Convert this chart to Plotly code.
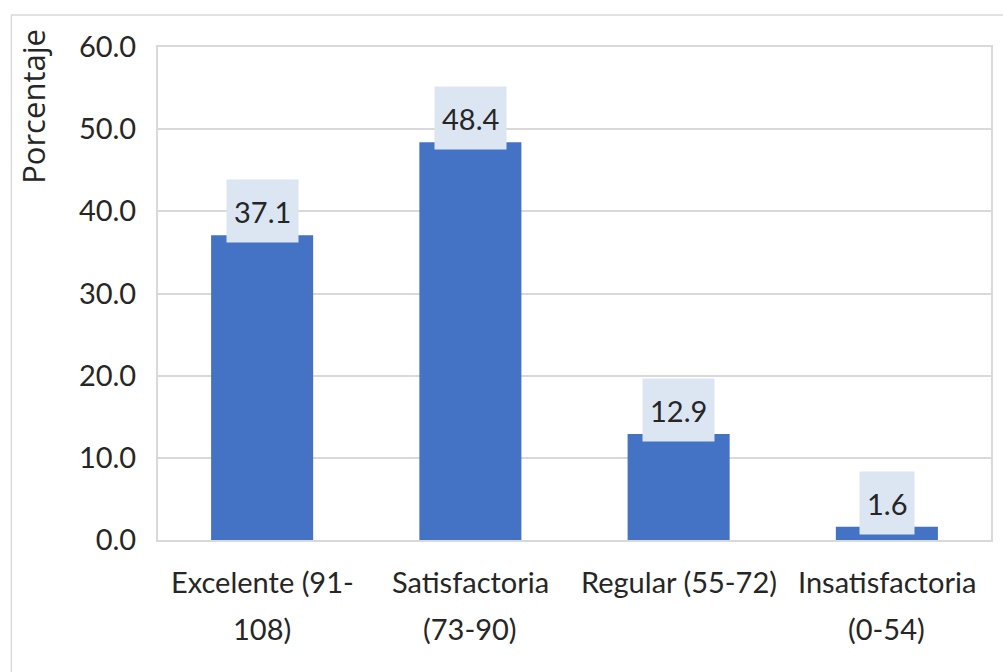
import plotly.graph_objects as go

categories = ["Excelente (91-108)", "Satisfactoria (73-90)", "Regular (55-72)", "Insatisfactoria (0-54)"]
category_lines = [["Excelente (91-", "108)"], ["Satisfactoria", "(73-90)"], ["Regular (55-72)"], ["Insatisfactoria", "(0-54)"]]
values = [37.1, 48.4, 12.9, 1.6]
y_ticks = [0, 10, 20, 30, 40, 50, 60]
y_tick_labels = ["0.0", "10.0", "20.0", "30.0", "40.0", "50.0", "60.0"]
y_title = "Porcentaje"

FONT = "Lato, Carlito, Calibri, sans-serif"
FS = 29
BAR = "#4472C4"
GRID = "#D9D9D9"
TXT = "#262626"

fig = go.Figure()
fig.add_trace(go.Bar(
    x=categories, y=values, width=0.49,
    marker=dict(color=BAR, line=dict(width=0)),
    hoverinfo="skip",
))

# value labels
for c, v in zip(categories, values):
    fig.add_annotation(
        x=c, y=v, xref="x", yref="y",
        text=f"{v:.1f}", showarrow=False,
        yanchor="bottom", yshift=-8,
        bgcolor="#DCE6F2", borderpad=7, height=48,
        font=dict(family=FONT, size=FS, color=TXT),
    )

# category labels (multi-line with wider line spacing)
LINE_SHIFTS = [-23, -70]
for c, lines in zip(categories, category_lines):
    for i, line in enumerate(lines):
        fig.add_annotation(
            x=c, y=0, xref="x", yref="y",
            text=line, showarrow=False,
            yanchor="top", yshift=LINE_SHIFTS[i], borderpad=0,
            font=dict(family=FONT, size=FS, color=TXT),
        )

fig.add_annotation(
    xref="paper", yref="paper", x=-0.177, y=1.041,
    xanchor="left", yanchor="top",
    text=y_title, textangle=-90, showarrow=False,
    font=dict(family="Open Sans, Noto Sans, sans-serif", size=31, color=TXT),
)

fig.add_shape(type="rect", xref="paper", yref="paper",
              x0=-0.176, x1=1.05, y0=-0.3, y1=1.065,
              line=dict(color="#D9D9D9", width=1.5), layer="below")

fig.update_layout(
    width=1003, height=672,
    margin=dict(l=158, r=10, t=47, b=132),
    paper_bgcolor="white", plot_bgcolor="white",
    showlegend=False,
    font=dict(family=FONT, size=FS, color=TXT),
)
fig.update_xaxes(
    showline=True, linecolor=GRID, linewidth=2, mirror=True,
    ticks="", showticklabels=False,
)
fig.update_yaxes(
    range=[0, 60], tickvals=y_ticks, ticktext=y_tick_labels,
    showgrid=True, gridcolor=GRID, gridwidth=2,
    showline=True, linecolor=GRID, linewidth=2, mirror=True,
    zeroline=False, ticks="", ticklabelstandoff=14,
    tickfont=dict(family=FONT, size=FS, color=TXT),
)

fig.write_html("out.html")
